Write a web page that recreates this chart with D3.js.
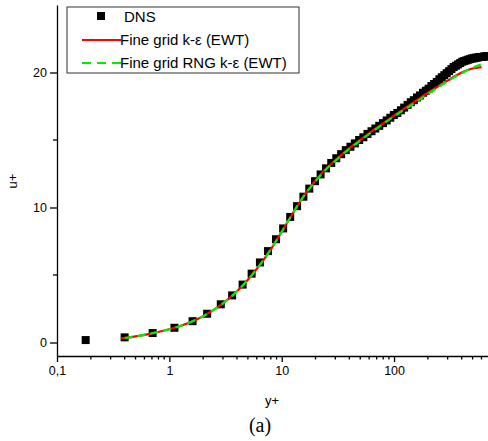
<!DOCTYPE html>
<html><head><meta charset="utf-8">
<script src="https://cdn.jsdelivr.net/npm/d3@7"></script>
<style>body{margin:0;background:#fff;} svg{display:block;}
text{font-family:"Liberation Sans",Arial,Helvetica,sans-serif;}
text.serif{font-family:"Liberation Serif","Times New Roman",serif;}
</style>
</head><body>
<svg id="c" width="488" height="441"></svg>
<script>
// DNS data (y+, u+)
const dnsYp = [0.18,0.40,0.71,1.11,1.61,2.17,2.87,3.62,4.49,5.40,6.40,7.55,8.90,10.3,11.9,13.7,15.6,17.6,19.8,22.2,24.8,27.6,30.6,33.8,37.2,40.9,44.8,48.9,53.3,58.0,63.0,68.2,73.8,79.7,86.0,92.6,99.6,107,115,123,132,141,150,160,170,181,192,203,215,227,240,253,266,280,294,309,324,339,355,371,388,405,422,440,458,476,495,514,533,553,573,594,615,637,659,681];
const dnsUp = [0.18,0.38,0.70,1.09,1.58,2.13,2.83,3.49,4.29,5.10,5.93,6.77,7.65,8.45,9.30,10.1,10.8,11.4,11.95,12.45,12.9,13.3,13.65,13.95,14.25,14.5,14.75,15.0,15.2,15.45,15.65,15.85,16.05,16.25,16.45,16.65,16.85,17.0,17.2,17.4,17.6,17.8,17.95,18.15,18.3,18.5,18.65,18.8,19.0,19.15,19.3,19.5,19.65,19.8,19.95,20.1,20.25,20.4,20.5,20.6,20.7,20.8,20.85,20.9,20.95,21.0,21.05,21.05,21.1,21.1,21.15,21.15,21.15,21.2,21.2,21.2];
// Fine grid k-epsilon (EWT)
const keYp = [0.37,0.5,0.7,1,1.5,2,3,4,5,6,7,8,10,12,15,20,25,30,40,50,70,100,150,200,300,400,500,600];
const keUp = [0.30,0.45,0.68,0.98,1.47,1.95,2.90,3.80,4.65,5.45,6.20,6.90,8.20,9.30,10.6,12.0,12.9,13.5,14.4,15.0,15.9,16.8,17.8,18.5,19.4,20.0,20.3,20.4];
// Fine grid RNG k-epsilon (EWT)
const rngYp = [0.4,0.5,0.7,1,1.5,2,3,4,5,6,7,8,10,12,15,20,25,30,40,50,70,100,150,200,300,400,500,600];
const rngUp = [0.33,0.45,0.68,0.98,1.47,1.95,2.90,3.80,4.65,5.45,6.20,6.90,8.20,9.30,10.6,11.95,12.85,13.45,14.35,14.95,15.85,16.75,17.7,18.4,19.35,19.95,20.35,20.6];
const xTicks = [0.1,1,10,100];
const xTickLabels = ["0,1","1","10","100"];
const yTicks = [0,10,20];
const legendLabels = ["DNS","Fine grid k-\u03b5 (EWT)","Fine grid RNG k-\u03b5 (EWT)"];

const svg = d3.select("#c");
const x = d3.scaleLog().domain([0.1,700]).range([57,489]);
const y = d3.scaleLinear().domain([-1,25]).range([356,5]);

// axes
const minorX = [];
[0.1,1,10,100].forEach(d=>{for(let k=2;k<=9;k++){const v=d*k; if(v<=700) minorX.push(v);}});
const gx = svg.append("g").attr("transform","translate(0,356)");
gx.call(d3.axisBottom(x).tickValues(xTicks).tickFormat((d,i)=>xTickLabels[i]).tickSize(6).tickPadding(4).tickSizeOuter(0));
gx.append("g").selectAll("line").data(minorX).join("line")
  .attr("x1",d=>x(d)).attr("x2",d=>x(d)).attr("y1",0).attr("y2",3.5).attr("stroke","#000");
const gy = svg.append("g").attr("transform","translate(57,0)");
gy.call(d3.axisLeft(y).tickValues(yTicks).tickSize(7).tickPadding(3).tickSizeOuter(0));
gy.append("g").selectAll("line").data([5,15]).join("line")
  .attr("x1",0).attr("x2",-4).attr("y1",d=>y(d)).attr("y2",d=>y(d)).attr("stroke","#000");
[gx,gy].forEach(g=>{g.selectAll("text").attr("font-size",12.5).attr("fill","#000");
  g.selectAll("path,line").attr("stroke","#000").attr("stroke-width",1.3);});
gx.attr("font-family",null); gy.attr("font-family",null);

// labels
svg.append("text").attr("x",272).attr("y",405).attr("text-anchor","middle")
  .attr("font-size",13).text("y+");
svg.append("text").attr("transform","translate(17,181) rotate(-90)").attr("text-anchor","middle")
  .attr("font-size",13).text("u+");
svg.append("text").attr("class","serif").attr("x",260).attr("y",432).attr("text-anchor","middle")
  .attr("font-size",20).text("(a)");

// DNS squares
const dns = dnsYp.map((v,i)=>[v,dnsUp[i]]);
svg.append("g").selectAll("rect").data(dns).join("rect")
  .attr("x",d=>x(d[0])-4).attr("y",d=>y(d[1])-4).attr("width",8).attr("height",8).attr("fill","#000");

const line = d3.line().x(d=>x(d[0])).y(d=>y(d[1])).curve(d3.curveMonotoneX);
svg.append("path").datum(keYp.map((v,i)=>[v,keUp[i]])).attr("d",line)
  .attr("fill","none").attr("stroke","#ff0000").attr("stroke-width",2.2);
svg.append("path").datum(rngYp.map((v,i)=>[v,rngUp[i]])).attr("d",line)
  .attr("fill","none").attr("stroke","#00ee00").attr("stroke-width",2.2).attr("stroke-dasharray","8,5");

// legend
const lg = svg.append("g");
lg.append("rect").attr("x",67).attr("y",7).attr("width",232).attr("height",66)
  .attr("fill","#fff").attr("stroke","#333").attr("stroke-width",1);
const rows=[22,45,68];
lg.append("rect").attr("x",97).attr("y",rows[0]-10).attr("width",8).attr("height",8).attr("fill","#000");
lg.append("line").attr("x1",82).attr("x2",121).attr("y1",rows[1]-5).attr("y2",rows[1]-5).attr("stroke","#ff0000").attr("stroke-width",2);
lg.append("line").attr("x1",82).attr("x2",121).attr("y1",rows[2]-5).attr("y2",rows[2]-5).attr("stroke","#00ee00").attr("stroke-width",2).attr("stroke-dasharray","9,6");
legendLabels.forEach((t,i)=>{
  lg.append("text").attr("x",i===0?124:120).attr("y",rows[i])
    .attr("font-size",15).attr("fill","#000").text(t);
});
</script>
</body></html>
